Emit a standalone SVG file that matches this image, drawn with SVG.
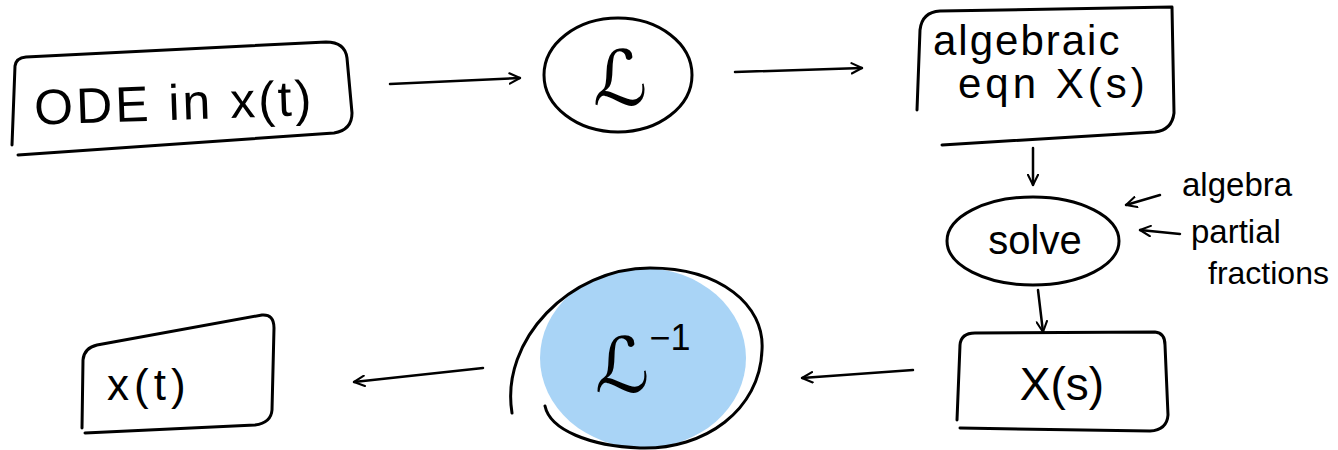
<svg xmlns="http://www.w3.org/2000/svg" width="1338" height="450" viewBox="0 0 1338 450">
<style>
.ink{fill:none;stroke:#000;stroke-width:3;stroke-linecap:round;stroke-linejoin:round}
.conn{fill:none;stroke:#000;stroke-width:2.5;stroke-linecap:round;marker-end:url(#ah)}
.t{font-family:"Liberation Sans","DejaVu Sans",sans-serif;fill:#000}
.scr{font-family:"DejaVu Serif","DejaVu Sans",serif;font-style:italic;fill:#000}
</style>
<defs>
<marker id="ah" viewBox="0 0 12 12" refX="11" refY="6" markerWidth="5" markerHeight="5" orient="auto" markerUnits="strokeWidth">
<path d="M1,1 L11,6 L1,11" fill="none" stroke="#000" stroke-width="2" stroke-linecap="round" stroke-linejoin="round"/>
</marker>
</defs>
<rect width="1338" height="450" fill="#fff"/>

<g id="ode">
<path class="ink" d="M12,145 L15,66 Q16,58 26,57 L326,42 Q345,42 347,58 L352,113 Q352,130 334,133 L18,155"/>
<text class="t" x="34" y="120" font-size="50" letter-spacing="3" transform="rotate(-2 170 100)">ODE in x(t)</text>
</g>

<g id="laplace">
<ellipse class="ink" cx="618" cy="75" rx="74" ry="57"/>
<text class="scr" x="620" y="105" font-size="76" text-anchor="middle">ℒ</text>
</g>

<g id="algebraic">
<path class="ink" d="M917,110 L920,30 Q922,12 940,11 L1172,7 L1174,113 Q1172,130 1155,132 L942,145"/>
<text class="t" x="933" y="55" font-size="42" letter-spacing="2">algebraic</text>
<text class="t" x="958" y="98" font-size="42" letter-spacing="4">eqn X(s)</text>
</g>

<g id="solve">
<ellipse class="ink" cx="1033" cy="241" rx="86" ry="44"/>
<text class="t" x="1035" y="254" font-size="40" text-anchor="middle">solve</text>
</g>

<g id="notes">
<text class="t" x="1182" y="196" font-size="33">algebra</text>
<text class="t" x="1191" y="243" font-size="33">partial</text>
<text class="t" x="1208" y="284" font-size="32">fractions</text>
</g>

<g id="xs">
<path class="ink" d="M957,420 L960,345 Q961,333 975,333 L1155,332 Q1165,333 1165,345 L1168,415 Q1167,430 1150,431 L960,428"/>
<text class="t" x="1062" y="400" font-size="46" text-anchor="middle">X(s)</text>
</g>

<g id="inverse">
<ellipse cx="643" cy="358" rx="103" ry="90" fill="#a9d4f6"/>
<path class="ink" d="M512,413 C500,340 570,268 650,268 C720,268 765,305 762,350 C760,410 705,450 640,448 C590,446 550,430 545,406"/>
<text class="scr" x="622" y="392" font-size="76" text-anchor="middle">ℒ</text>
<text class="t" x="670" y="350" font-size="36" text-anchor="middle">−1</text>
</g>

<g id="xt">
<path class="ink" d="M82,428 L83,360 Q84,348 97,345 L262,315 Q274,314 274,328 L272,410 Q271,423 255,425 L85,433"/>
<text class="t" x="107" y="400" font-size="44" letter-spacing="5">x(t)</text>
</g>

<g id="connectors">
<path class="conn" d="M390,84 L520,78"/>
<path class="conn" d="M735,72 L862,68"/>
<path class="conn" d="M1033,148 L1033,185"/>
<path class="conn" d="M1160,195 L1126,205"/>
<path class="conn" d="M1180,234 L1140,230"/>
<path class="conn" d="M1038,290 L1043,332"/>
<path class="conn" d="M913,370 L802,378"/>
<path class="conn" d="M483,368 L354,382"/>
</g>
</svg>
